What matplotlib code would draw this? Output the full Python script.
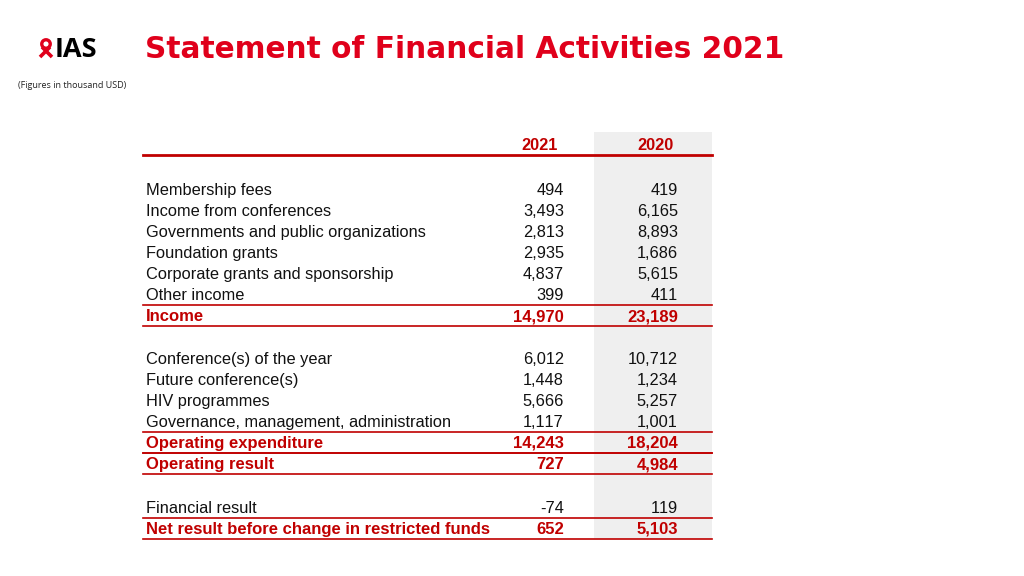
import numpy as np
import matplotlib
matplotlib.use("Agg")
import matplotlib.pyplot as plt
from matplotlib.patches import Rectangle, Ellipse

# table content
labels = ["Membership fees", "Income from conferences", "Governments and public organizations",
          "Foundation grants", "Corporate grants and sponsorship", "Other income", "Income",
          None,
          "Conference(s) of the year", "Future conference(s)", "HIV programmes",
          "Governance, management, administration", "Operating expenditure", "Operating result",
          None,
          "Financial result", "Net result before change in restricted funds"]
vals_2021 = ["494", "3,493", "2,813", "2,935", "4,837", "399", "14,970", None,
             "6,012", "1,448", "5,666", "1,117", "14,243", "727", None,
             "-74", "652"]
vals_2020 = ["419", "6,165", "8,893", "1,686", "5,615", "411", "23,189", None,
             "10,712", "1,234", "5,257", "1,001", "18,204", "4,984", None,
             "119", "5,103"]
totals = {"Income", "Operating expenditure", "Operating result",
          "Net result before change in restricted funds"}
years = ["2021", "2020"]

RED = "#C00000"
TITLE_RED = "#E0001B"
plt.rcParams["font.family"] = ["Liberation Sans", "DejaVu Sans"]
try:
    plt.rcParams["text.kerning_factor"] = 30  # no kerning: tabular-looking digits
except KeyError:
    pass

fig = plt.figure(figsize=(10.24, 5.76), dpi=100)
ax = fig.add_axes([0, 0, 1, 1])
ax.set_xlim(0, 1024)
ax.set_ylim(576, 0)
ax.axis("off")

# header / logo
ax.text(145, 49, "Statement of Financial Activities 2021", color=TITLE_RED, fontsize=21.3,
        fontweight="bold", family="DejaVu Sans", va="center", ha="left")
ax.text(55, 50, "IAS", color="black", fontsize=19.5, family="Open Sans", fontweight="bold",
        va="center", ha="left")
ax.add_patch(Ellipse((46, 44), 8.5, 8.5, fill=False, ec=TITLE_RED, lw=2.4))
ax.plot([50, 40], [47, 57], color=TITLE_RED, lw=2.6, solid_capstyle="butt")
ax.plot([42, 52], [47, 57], color=TITLE_RED, lw=2.6, solid_capstyle="butt")
ax.text(18, 85, "(Figures in thousand USD)", fontsize=6.5, family="Open Sans",
        va="center", ha="left", color="#222222")

# row positions (row centres, px)
ys = []
y = 189.0
for lab in labels:
    ys.append(int(np.floor(y)))
    y += 22.5 if lab is None else 21
top, bottom = 132, ys[-1] + 11

x0, x1 = 143, 712
col_r = [564, 678]
col_c = [540, 655]
ax.add_patch(Rectangle((594, top), x1 - 594, bottom - top, color="#EFEFEF", lw=0, zorder=0))

for xc, yr in zip(col_c, years):
    ax.text(xc, 150, yr, color=RED, fontsize=11.8, fontweight="bold", ha="center", va="baseline")
ax.plot([x0, x1], [155, 155], color=RED, lw=2)

for lab, v1, v2, yy in zip(labels, vals_2021, vals_2020, ys):
    if lab is None:
        continue
    bold = lab in totals
    kw = dict(fontsize=12.0 if bold else 11.8, va="baseline", color=RED if bold else "#111111",
              fontweight="bold" if bold else "normal")
    base = yy + 6
    ax.text(146, base, lab, ha="left", **kw)
    ax.text(col_r[0], base, v1, ha="right", **kw)
    ax.text(col_r[1], base, v2, ha="right", **kw)
    if bold:
        ax.plot([x0, x1], [yy - 10.5, yy - 10.5], color=RED, lw=1.2)
        ax.plot([x0, x1], [yy + 10.5, yy + 10.5], color=RED, lw=1.2)

fig.savefig("out.png", dpi=100)
